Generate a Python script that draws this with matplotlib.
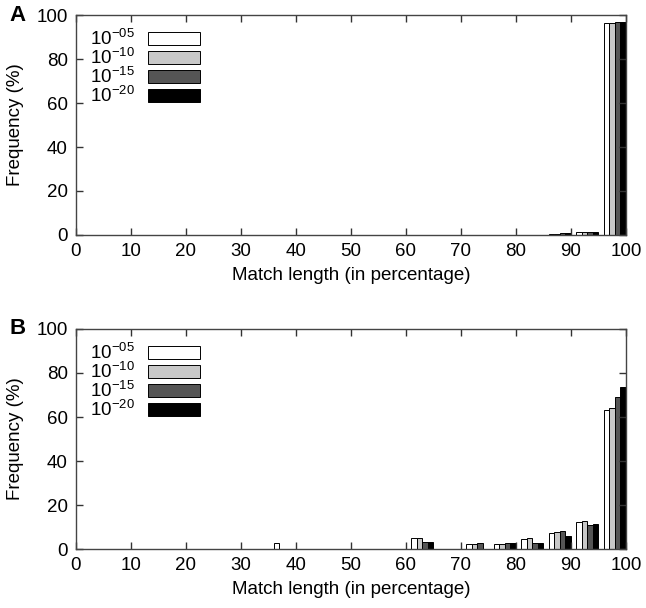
import numpy as np
import matplotlib.pyplot as plt

plt.rcParams['font.family'] = ['Liberation Sans', 'DejaVu Sans']
plt.rcParams['mathtext.fontset'] = 'custom'
plt.rcParams['mathtext.rm'] = 'Liberation Sans'

# bins of 5% match length (lower edges)
bins = [35, 60, 70, 75, 80, 85, 90, 95]
evalues = ['$10^{-05}$', '$10^{-10}$', '$10^{-15}$', '$10^{-20}$']
colors = ['white', '#c8c8c8', '#555555', 'black']

# panel A frequencies (%) per e-value threshold
freq_a = {
    '05': [0, 0, 0, 0, 0.2, 0.5, 1.5, 96.5],
    '10': [0, 0, 0, 0, 0.1, 0.5, 1.5, 96.5],
    '15': [0, 0, 0, 0, 0.1, 0.7, 1.5, 96.8],
    '20': [0, 0, 0, 0, 0.1, 0.7, 1.3, 97.0],
}
# panel B frequencies (%)
freq_b = {
    '05': [2.6, 5.0, 2.4, 2.4, 4.7, 7.1, 12.1, 63.2],
    '10': [0, 5.0, 2.4, 2.4, 5.0, 7.6, 12.7, 64.0],
    '15': [0, 3.0, 2.9, 2.9, 2.9, 8.3, 10.9, 69.2],
    '20': [0, 3.0, 0, 2.9, 2.9, 5.9, 11.5, 73.5],
}

fig = plt.figure(figsize=(6.46, 6.08), dpi=100)
ax_a = fig.add_axes([0.1176, 0.6135, 0.8514, 0.3618])
ax_b = fig.add_axes([0.1176, 0.0970, 0.8514, 0.3619])

fs = 13.5
for ax, freq, letter in [(ax_a, freq_a, 'A'), (ax_b, freq_b, 'B')]:
    for i, key in enumerate(['05', '10', '15', '20']):
        x = np.array(bins) + 1.5 + i
        ax.bar(x, freq[key], width=1.0, color=colors[i], edgecolor='black',
               linewidth=0.7, label=evalues[i])
    ax.set_xlim(0, 100)
    ax.set_ylim(0, 100)
    ax.set_xticks(range(0, 101, 10))
    ax.set_yticks(range(0, 101, 20))
    ax.tick_params(direction='in', length=5, width=1, top=True, right=True,
                   labelsize=fs, colors='#333333', labelcolor='black', pad=6)
    for s in ax.spines.values():
        s.set_color('#444444')
        s.set_linewidth(1.0)
    ax.set_xlabel('Match length (in percentage)', fontsize=fs, labelpad=5)
    ax.set_ylabel('Frequency (%)', fontsize=fs, labelpad=9)
    bb = ax.get_position()
    fig.text(0.015, bb.y1, letter, fontsize=16, fontweight='bold',
             va='center', ha='left')
    ax.legend(loc='upper left', bbox_to_anchor=(0.005, 0.99), frameon=False,
              markerfirst=False, fontsize=fs, handlelength=2.8,
              handleheight=0.65, labelspacing=-0.1, handletextpad=0.7,
              borderaxespad=0.2)

fig.savefig('out.png', dpi=100)
